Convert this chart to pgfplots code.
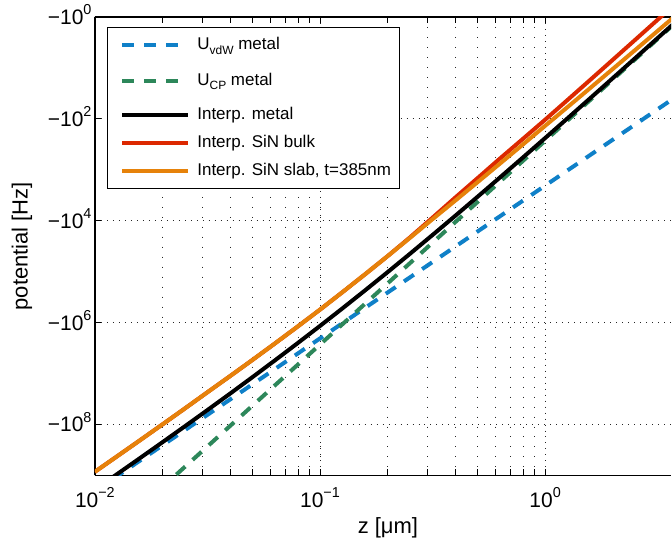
\documentclass[border=0pt]{standalone}
\usepackage{fontspec}
\setmainfont{Liberation Sans}
\usepackage{pgfplots}
\pgfplotsset{compat=1.18}
\definecolor{cvdw}{RGB}{15,128,200}
\definecolor{ccp}{RGB}{45,135,90}
\definecolor{cred}{RGB}{220,40,0}
\definecolor{corange}{RGB}{230,130,10}
\newcommand{\sps}[1]{\raisebox{4.8pt}{\fontsize{7.2}{8}\selectfont #1}}
\newcommand{\sbs}[1]{\raisebox{-2.3pt}{\fontsize{6}{7}\selectfont #1}}
\pgfplotsset{
  limgA/.style={legend image code/.code={\path (0pt,0pt) (0pt,-7.75pt); \draw[##1] (2.3pt,0pt) -- (35.1pt,0pt);}},
  limgB/.style={legend image code/.code={\path (0pt,0pt) (0pt,-7.25pt); \draw[##1] (2.3pt,0pt) -- (35.1pt,0pt);}},
}
\begin{document}
\begin{tikzpicture}
\path (-47.5pt,-34.5pt) rectangle (288.5pt,238pt);
\begin{axis}[
  at={(0,0)}, anchor=south west,
  scale only axis, width=288.5pt, height=229.5pt,
  xmode=log, ymode=log, y dir=reverse,
  xmin=0.01, xmax=3.63, ymin=1, ymax=1e9,
  axis x line=box, axis y line=left,
  y axis line style={-},
  xtick={0.01,0.1,1},
  xticklabels={10\sps{−2},10\sps{−1},10\sps{0}},
  ytick={1,1e2,1e4,1e6,1e8},
  yticklabels={−10\sps{0},−10\sps{2},−10\sps{4},−10\sps{6},−10\sps{8}},
  yminorticks=false,
  tick align=inside,
  major tick length=3pt, minor tick length=3pt,
  tick style={black, line width=0.5pt},
  axis line style={black, line width=0.8pt},
  xmajorgrids=true, xminorgrids=true, ymajorgrids=true,
  major grid style={black!85, line width=0.45pt, dash pattern=on 0.5pt off 2.5pt},
  minor grid style={black!85, line width=0.45pt, dash pattern=on 0.5pt off 4.5pt},
  tick label style={font=\fontsize{10.5}{12}\selectfont},
  xticklabel style={anchor=base, inner sep=0pt, yshift=-16pt},
  yticklabel style={anchor=base east, inner sep=0pt, yshift=-3.75pt, xshift=-1.5pt},
  xlabel={z [μm]}, ylabel={potential [Hz]},
  label style={font=\fontsize{11}{13}\selectfont},
  xlabel style={at={(axis description cs:0.5085,-0.1142)}, anchor=center},
  ylabel style={at={(axis description cs:-0.1265,0.5)}, anchor=center},
  legend image code/.code={\path (0pt,0pt); \draw[#1] (2.3pt,0pt) -- (35.1pt,0pt);},
  legend cell align=left,
  legend style={at={(axis description cs:0.0208,0.9782)}, anchor=north west,
    draw=black, line width=0.6pt, fill=white,
    font=\fontsize{8.5}{10}\selectfont,
    inner xsep=4.2pt, inner ysep=4pt, row sep=4.2pt, column sep=3.7pt,
    nodes={inner xsep=0pt, inner ysep=1pt}},
]
\addplot[cvdw, line width=2pt, dash pattern=on 6pt off 5pt, limgA] coordinates {
(0.01,2.042e9) (0.1,2.042e6) (1,2042) (3.9811,32.36)};
\addlegendentry{U\sbs{vdW} metal}
\addplot[ccp, line width=2pt, dash pattern=on 6pt off 5pt, limgB] coordinates {
(0.01,2.692e10) (0.1,2.692e6) (1,269.2) (3.9811,1.072)};
\addlegendentry{U\sbs{CP} metal}
\addplot[black, line width=2pt] coordinates {
(0.01,1.898e9) (0.012589,9.341e8) (0.015849,4.578e8) (0.019953,2.233e8) (0.025119,1.082e8) (0.031623,5.207e7) (0.039811,2.486e7) (0.050119,1.175e7) (0.063096,5.497e6) (0.079433,2.542e6) (0.1,1.161e6) (0.12589,5.235e5) (0.15849,2.329e5) (0.19953,1.023e5) (0.25119,4.434e4) (0.31623,1.900e4) (0.39811,8.050e3) (0.50119,3.378e3) (0.63096,1.405e3) (0.79433,579.8) (1,237.8) (1.2589,97.01) (1.5849,39.38) (1.9953,15.93) (2.5119,6.424) (3.1623,2.584) (3.9811,1.037)};
\addlegendentry{Interp. metal}
\addplot[cred, line width=2pt] coordinates {
(0.01,8.476e8) (0.012589,4.173e8) (0.015849,2.045e8) (0.019953,9.972e7) (0.025119,4.834e7) (0.031623,2.326e7) (0.039811,1.126e7) (0.050119,5.396e6) (0.063096,2.559e6) (0.079433,1.200e6) (0.1,5.557e5) (0.12589,2.517e5) (0.15849,1.125e5) (0.19953,4.963e4) (0.25119,2.113e4) (0.31623,8.684e3) (0.39811,3.530e3) (0.50119,1.454e3) (0.63096,596.5) (0.79433,249.6) (1,103.8) (1.2589,42.35) (1.5849,17.19) (1.9953,6.954) (2.5119,2.804) (3.1623,1.128) (3.9811,0.4528)};
\addlegendentry{Interp. SiN bulk}
\addplot[corange, line width=2pt] coordinates {
(0.01,8.476e8) (0.012589,4.173e8) (0.015849,2.045e8) (0.019953,9.972e7) (0.025119,4.834e7) (0.031623,2.326e7) (0.039811,1.126e7) (0.050119,5.396e6) (0.063096,2.559e6) (0.079433,1.200e6) (0.1,5.557e5) (0.12589,2.517e5) (0.15849,1.125e5) (0.19953,4.963e4) (0.25119,2.162e4) (0.31623,9.305e3) (0.39811,4.053e3) (0.50119,1.748e3) (0.63096,750.9) (0.79433,321.6) (1,136.8) (1.2589,58.45) (1.5849,24.85) (1.9953,10.52) (2.5119,4.444) (3.1623,1.872) (3.9811,0.787)};
\addlegendentry{Interp. SiN slab, t=385nm}
\end{axis}
\end{tikzpicture}
\end{document}
